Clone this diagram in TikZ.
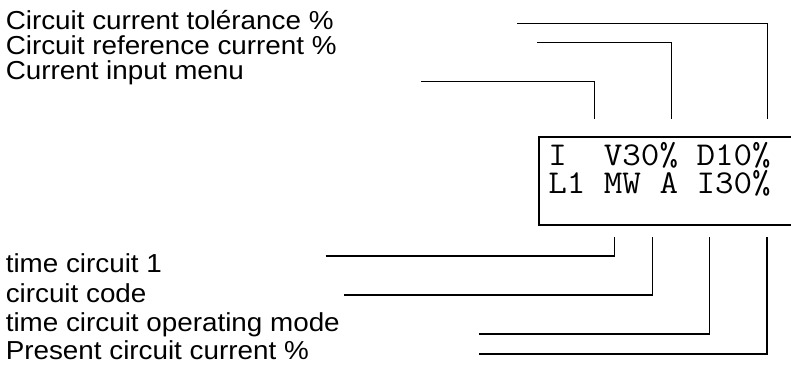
\documentclass[tikz,border=0pt]{standalone}
\usepackage{fontspec}
\usepackage{graphicx}
\setmainfont{Liberation Sans}[FakeStretch=1.07]
\begin{document}
\begin{tikzpicture}[x=0.75pt,y=-0.75pt,
  lbl/.style={anchor=base west, inner sep=0pt, font=\fontsize{19.5pt}{20pt}\selectfont},
  lcd/.style={anchor=base west, inner sep=0pt, text height=15.5pt, text depth=0pt,
    font=\ttfamily\fontsize{25pt}{26pt}\selectfont},
  lead/.style={draw=black, line width=1.1pt},
  panel/.style={draw=black, line width=1.3pt, rectangle, inner sep=0pt,
    minimum width=191.25pt, minimum height=66pt, anchor=north west}]
\useasboundingbox (0,0) rectangle (791,367);
% labels
\node[lbl] (lt1) at (5.5,29.5) {Circuit current tolérance \%};
\node[lbl] (lt2) at (5.5,54.5) {Circuit reference current \%};
\node[lbl] (lt3) at (5.5,79.5) {Current input menu};
\node[lbl] (lb1) at (5.5,272.5) {time circuit 1};
\node[lbl] (lb2) at (5.5,302) {circuit code};
\node[lbl] (lb3) at (5.5,331) {time circuit operating mode};
\node[lbl] (lb4) at (5.5,359.5) {Present circuit current \%};
% display
\node[panel] (box) at (538,136) {};
\node[lcd] (row1) at (548,165) {\scalebox{1.08}[1]{I\ \ V30\%\ D10\%}};
\node[lcd] (row2) at (548,193) {\scalebox{1.08}[1]{L1\ MW\ A\ I30\%}};
% leader end points
\coordinate (t1a) at (517,23.3);   \coordinate (t1b) at (767.7,119);
\coordinate (t2a) at (537,42.7);   \coordinate (t2b) at (671.7,119);
\coordinate (t3a) at (421,81.3);   \coordinate (t3b) at (594.3,119);
\coordinate (b1a) at (325.7,256);  \coordinate (b1b) at (614.3,237);
\coordinate (b2a) at (344,295);    \coordinate (b2b) at (652.3,237);
\coordinate (b3a) at (479,334);    \coordinate (b3b) at (709.5,237);
\coordinate (b4a) at (479,354);    \coordinate (b4b) at (767,237);
\draw[lead] (t1a) -| (t1b);
\draw[lead] (t2a) -| (t2b);
\draw[lead] (t3a) -| (t3b);
\draw[lead] (b1a) -| (b1b);
\draw[lead] (b2a) -| (b2b);
\draw[lead] (b3a) -| (b3b);
\draw[lead] (b4a) -| (b4b);
\end{tikzpicture}
\end{document}
